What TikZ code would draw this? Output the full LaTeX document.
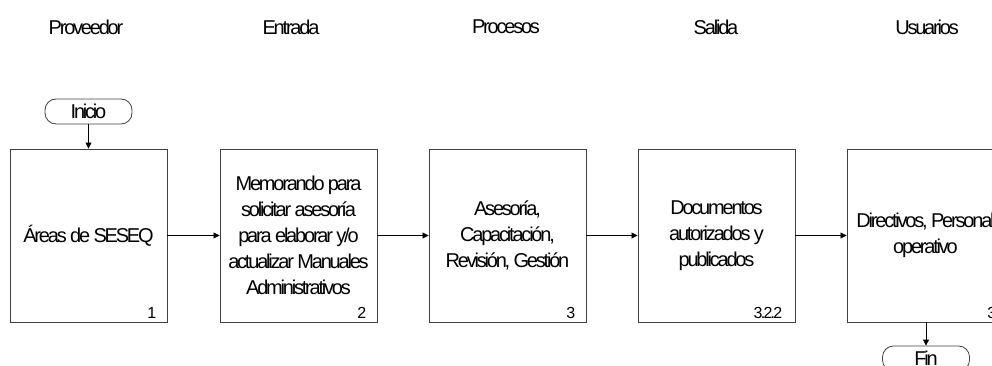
\documentclass[tikz,border=0pt]{standalone}
\usepackage{fontspec}
\setmainfont[LetterSpace=-11]{Liberation Sans}
\usetikzlibrary{arrows.meta}
\begin{document}
\begin{tikzpicture}[x=1pt,y=-1pt,
  every node/.style={font=\fontsize{20}{26}\selectfont},
  procbox/.style={draw=black!75,line width=0.9pt,minimum width=157pt,minimum height=173pt,inner sep=0pt,align=center},
  header/.style={inner sep=0pt},
  numlabel/.style={anchor=south east,inner sep=0pt,font=\fontsize{16}{18}\selectfont},
  term/.style={draw=black!75,line width=0.8pt,rounded corners=11pt,minimum width=87pt,minimum height=25pt,inner sep=0pt},
  flow/.style={draw=black,line width=0.8pt,-{Triangle[length=6pt,width=6pt]}}]
\useasboundingbox (0,0) rectangle (992,366);
\clip (0,0) rectangle (992,366);
\node[header] (h1) at (86,27) {Proveedor};
\node[header] (h2) at (291,27) {Entrada};
\node[header] (h3) at (506,27) {Procesos};
\node[header] (h4) at (716,27) {Salida};
\node[header] (h5) at (927,27) {Usuarios};
\node[procbox] (b1) at (88.5,235.5) {Áreas de SESEQ};
\node[procbox] (b2) at (298.5,235.5) {Memorando para\\solicitar asesoría\\para elaborar y/o\\actualizar Manuales\\Administrativos};
\node[procbox] (b3) at (507.5,235.5) {Asesoría,\\Capacitación,\\Revisión, Gestión};
\node[procbox] (b4) at (716.5,235.5) {Documentos\\autorizados y\\publicados};
\node[procbox] (b5) at (925.5,235.5) {Directivos, Personal\\operativo};
\node[numlabel] (n1) at ([xshift=-11pt,yshift=4pt]b1.south east) {1};
\node[numlabel] (n2) at ([xshift=-11pt,yshift=4pt]b2.south east) {2};
\node[numlabel] (n3) at ([xshift=-11pt,yshift=4pt]b3.south east) {3};
\node[numlabel] (n4) at ([xshift=-13pt,yshift=4pt]b4.south east) {3.2.2};
\node[numlabel] (n5) at ([xshift=-8pt,yshift=4pt]b5.south east) {3};
\node[term] (ini) at (88.5,111.5) {Inicio};
\node[term] (fin) at (926,358.5) {Fin};
\draw[flow] (ini) -- (b1);
\draw[flow] (b1) -- (b2);
\draw[flow] (b2) -- (b3);
\draw[flow] (b3) -- (b4);
\draw[flow] (b4) -- (b5);
\draw[flow] (b5.south -| fin.north) -- (fin);
\end{tikzpicture}
\end{document}
